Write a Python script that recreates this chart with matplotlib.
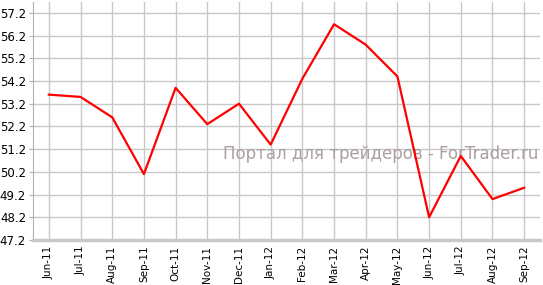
import numpy as np
import matplotlib
matplotlib.use('Agg')
import matplotlib.pyplot as plt

# ── Data ──────────────────────────────────────────────────────────
months = ['Jun-11', 'Jul-11', 'Aug-11', 'Sep-11', 'Oct-11', 'Nov-11',
          'Dec-11', 'Jan-12', 'Feb-12', 'Mar-12', 'Apr-12', 'May-12',
          'Jun-12', 'Jul-12', 'Aug-12', 'Sep-12']
values = [53.6, 53.5, 52.6, 50.1, 53.9, 52.3,
          53.2, 51.4, 54.3, 56.7, 55.8, 54.4,
          48.2, 50.9, 49.0, 49.5]
yticks = [47.2, 48.2, 49.2, 50.2, 51.2, 52.2, 53.2, 54.2, 55.2, 56.2, 57.2]

C_GRID = '#c8c8c8'

fig = plt.figure(figsize=(5.43, 2.85), dpi=100, facecolor='white')
ax = fig.add_axes([0.0608, 0.158, 0.9337, 0.835])

x = np.arange(len(months))
ax.plot(x, values, color='#ff0000', lw=1.6, zorder=3)

ax.set_xlim(-0.5, len(months) - 0.5)
ax.set_ylim(47.2, 57.68)
ax.set_xticks(x)
ax.set_xticklabels(months, rotation=90, fontsize=7.5)
ax.set_yticks(yticks)
ax.set_yticklabels([f'{v:.1f}' for v in yticks], fontsize=8.5)

ax.grid(True, color=C_GRID, lw=1.0, zorder=0)
for side in ('top', 'right'):
    ax.spines[side].set_visible(False)
ax.spines['left'].set_color('#b0b0b0')
ax.spines['bottom'].set_color('#c8c8c8')
ax.spines['bottom'].set_linewidth(2.5)
ax.tick_params(axis='x', length=0, pad=4)
ax.tick_params(axis='y', length=3, color='#b0b0b0', pad=2)

ax.text(0.997, 0.36, 'Портал для трейдеров - ForTrader.ru',
        transform=ax.transAxes, ha='right', va='center',
        color='#ab9f9f', fontsize=12, zorder=2)

plt.savefig('out.png', dpi=100, facecolor='white')
